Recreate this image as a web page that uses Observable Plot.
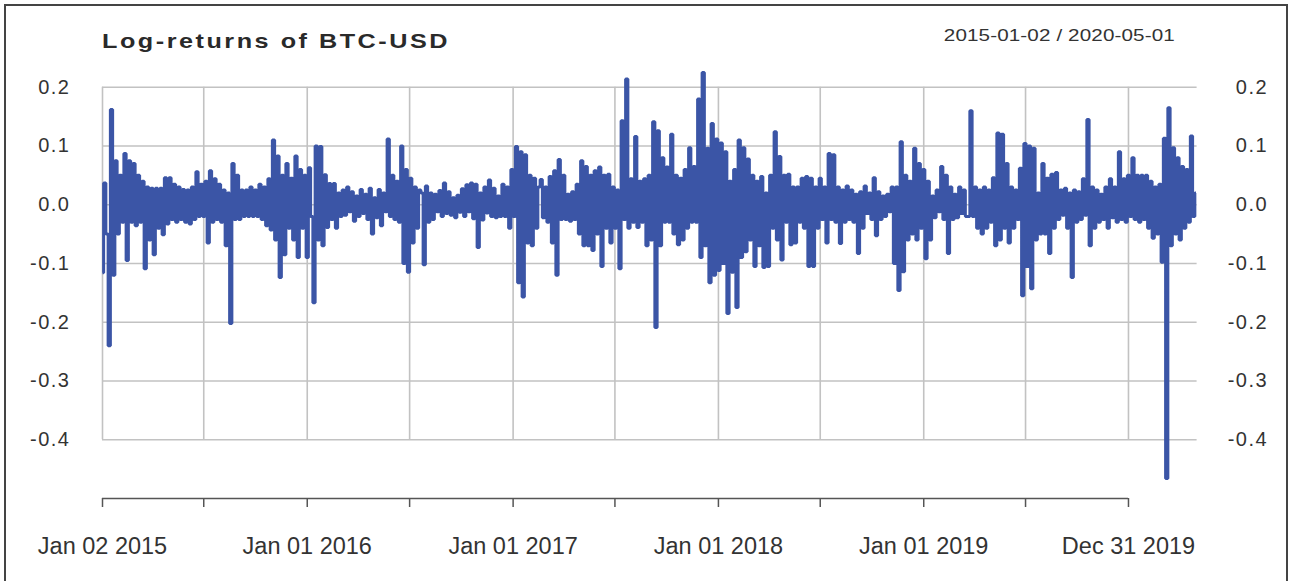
<!DOCTYPE html>
<html>
<head>
<meta charset="utf-8">
<script src="https://cdn.jsdelivr.net/npm/d3@7"></script>
<script src="https://cdn.jsdelivr.net/npm/@observablehq/plot@0.6"></script>
<style>
  body { margin: 0; background: #fff; }
  #wrap { position: relative; width: 1292px; height: 581px; overflow: hidden; font-family: "Liberation Sans", Arial, sans-serif; color: #333; }
  #border { position: absolute; left: 4px; top: 4px; width: 1284px; height: 620px; border: 2px solid #444; box-sizing: border-box; }
  #title { position: absolute; left: 102px; top: 29.5px; font-size: 21px; font-weight: bold; line-height: 21px; letter-spacing: 2.1px; white-space: nowrap; color: #2a2a2a; transform: scaleX(1.2); transform-origin: left center; }
  #range { position: absolute; right: 117px; top: 27px; font-size: 16.5px; line-height: 16.5px; letter-spacing: 0.1px; white-space: nowrap; color: #333; transform: scaleX(1.25); transform-origin: right center; }
  #chart { position: absolute; left: 0; top: 0; }
  #chart g[aria-label="y-axis tick label"] text { letter-spacing: 1.5px; }
</style>
</head>
<body>
<div id="wrap">
  <div id="border"></div>
  <div id="chart"></div>
  <div id="title">Log-returns of BTC-USD</div>
  <div id="range">2015-01-02 / 2020-05-01</div>
</div>
<script>
const startDate = "2015-01-02";
const endDate = "2020-05-01";
const stepDays = 4;

// 2015-01 .. 2016-01
const retA = [-0.116, 0.037, -0.05, -0.24, 0.162, -0.12, 0.075, -0.05, 0.05, -0.03,
  0.087, -0.095, 0.075, -0.03, 0.07, -0.036, 0.05, -0.03, 0.04, -0.109,
  0.03, -0.06, 0.028, -0.085, 0.028, -0.04, 0.028, -0.051, 0.046, -0.033,
  0.046, -0.025, 0.035, -0.03, 0.03, -0.025, 0.026, -0.03, 0.025, -0.033,
  0.03, -0.025, 0.056, -0.02, 0.035, -0.02, 0.04, -0.065, 0.058, -0.03,
  0.044, -0.025, 0.035, -0.03, 0.025, -0.07, 0.02, -0.202, 0.07, -0.025,
  0.05, -0.025, 0.025, -0.02, 0.025, -0.02, 0.03, -0.02, 0.025, -0.02,
  0.035, -0.025, 0.03, -0.036, 0.044, -0.043, 0.11, -0.06, 0.083, -0.124,
  0.05, -0.085, 0.07, -0.04, 0.045, -0.06, 0.083, -0.09, 0.06, -0.04,
  0.05, -0.09, 0.063, -0.02, -0.167, 0.1, -0.06];
// 2016-01 .. 2017-02
const retB = [0.099, -0.07, 0.051, -0.039, 0.036, -0.025, 0.036, -0.04, 0.02, -0.02,
  0.025, -0.018, 0.03, -0.012, 0.022, -0.028, 0.015, -0.02, 0.026, -0.015,
  0.018, -0.025, 0.028, -0.05, 0.012, -0.022, 0.026, -0.036, 0.02, -0.012,
  0.112, -0.02, 0.05, -0.025, 0.04, -0.03, 0.1, -0.1, 0.06, -0.115,
  0.045, -0.065, 0.03, -0.04, 0.025, 0.02, -0.102, 0.032, -0.03, 0.02,
  -0.025, 0.018, -0.012, 0.024, -0.02, 0.037, -0.015, 0.022, -0.018, 0.012,
  -0.022, 0.016, -0.013, 0.027, -0.02, 0.034, -0.012, 0.037, -0.024, 0.035,
  -0.073, 0.02, -0.026, 0.03, -0.014, 0.042, -0.02, 0.028, -0.022, 0.015,
  -0.02, 0.035, -0.02, 0.03, -0.04, 0.06, -0.02, 0.099, -0.133, 0.09,
  -0.157, 0.085, -0.065, 0.05, -0.07, 0.045, -0.04, 0.03];
// 2017-02 .. 2018-03
const retC = [0.043, -0.022, 0.03, -0.03, 0.048, -0.065, 0.058, -0.12, 0.077, -0.025,
  0.05, -0.025, 0.018, -0.028, 0.022, -0.025, 0.035, -0.05, 0.075, -0.07,
  0.065, -0.07, 0.05, -0.078, 0.058, -0.05, 0.064, -0.105, 0.05, -0.04,
  0.052, -0.065, 0.03, -0.04, 0.025, -0.109, 0.143, -0.025, 0.214, -0.04,
  0.044, -0.03, 0.116, -0.039, 0.04, -0.03, 0.044, -0.07, 0.05, -0.06,
  0.141, -0.209, 0.126, -0.07, 0.08, -0.03, 0.064, -0.03, 0.12, -0.05,
  0.05, -0.068, 0.045, -0.06, 0.06, -0.04, 0.097, -0.03, 0.065, -0.03,
  0.18, -0.09, 0.225, -0.07, 0.096, -0.133, 0.138, -0.12, 0.112, -0.112,
  0.105, -0.1, 0.09, -0.185, 0.04, -0.115, 0.06, -0.175, 0.11, -0.09,
  0.097, -0.08, 0.078, -0.06, 0.05, -0.105, 0.04, -0.07];
// 2018-03 .. 2019-04
const retD = [0.048, -0.107, 0.02, -0.105, 0.05, -0.04, 0.124, -0.06, 0.082, -0.094,
  0.05, -0.03, 0.052, -0.068, 0.03, -0.065, 0.03, -0.03, 0.045, -0.04,
  0.048, -0.105, 0.045, -0.105, 0.03, -0.04, 0.045, -0.025, 0.03, -0.065,
  0.087, -0.025, 0.085, -0.03, 0.03, -0.066, 0.025, -0.03, 0.032, -0.025,
  0.025, -0.03, 0.018, -0.083, 0.022, -0.04, 0.032, -0.015, 0.02, -0.025,
  0.046, -0.053, 0.022, -0.025, 0.015, -0.02, 0.018, -0.012, 0.03, -0.1,
  0.03, -0.146, 0.107, -0.114, 0.05, -0.06, 0.04, -0.05, 0.096, -0.06,
  0.07, -0.04, 0.06, -0.092, 0.04, -0.06, 0.015, -0.022, 0.025, -0.012,
  0.065, -0.025, 0.05, -0.083, 0.03, -0.025, 0.018, -0.022, 0.03, -0.015,
  0.025, -0.02, -0.02, 0.16, -0.02, 0.03, -0.04, 0.025];
// 2019-04 .. 2020-05
const retE = [-0.05, 0.03, -0.04, 0.025, -0.03, 0.046, -0.07, 0.122, -0.06, 0.12,
  -0.04, 0.07, -0.065, 0.03, -0.04, 0.025, -0.025, 0.062, -0.155, 0.104,
  -0.105, 0.1, -0.143, 0.096, -0.06, 0.02, -0.05, 0.07, -0.05, 0.045,
  -0.083, 0.052, -0.04, 0.055, -0.025, 0.025, -0.018, 0.028, -0.04, 0.02,
  -0.124, 0.025, -0.03, 0.022, -0.025, 0.044, -0.018, 0.145, -0.07, 0.03,
  -0.04, 0.025, -0.03, 0.018, -0.025, 0.03, -0.04, 0.044, -0.022, 0.03,
  -0.03, 0.09, -0.025, 0.044, -0.03, 0.05, -0.02, 0.08, -0.025, 0.05,
  -0.03, 0.05, -0.025, 0.05, -0.04, 0.04, -0.057, 0.03, -0.05, 0.035,
  -0.098, 0.113, -0.466, 0.165, -0.07, 0.097, -0.05, 0.08, -0.06, 0.065,
  -0.04, 0.06, -0.03, 0.117, -0.02, 0.02];

const xTickDates = ["2015-01-02","2015-07-01","2016-01-01","2016-07-01","2017-01-01","2017-07-01",
                    "2018-01-01","2018-07-01","2019-01-01","2019-07-01","2019-12-31"];
const xLabelDates = ["2015-01-02","2016-01-01","2017-01-01","2018-01-01","2019-01-01","2019-12-31"];
const xLabels = ["Jan 02 2015","Jan 01 2016","Jan 01 2017","Jan 01 2018","Jan 01 2019","Dec 31 2019"];
const yTicks = [-0.4, -0.3, -0.2, -0.1, 0.0, 0.1, 0.2];
const yBottom = -0.5;
const yTop = 0.225;

const returns = [...retA, ...retB, ...retC, ...retD, ...retE];
const t0 = new Date(startDate).getTime();
const series = returns.map((r, i) => ({date: new Date(t0 + i * stepDays * 864e5), ret: r}));

const tickDates = xTickDates.map(d => new Date(d));
const labelDates = xLabelDates.map(d => new Date(d));
const labelMap = new Map(labelDates.map((d, i) => [d.getTime(), xLabels[i]]));

const lineColor = "#3b55a6";
const gridColor = "#c2c2c2";
const axisColor = "#555";

const chart = Plot.plot({
  width: 1292,
  height: 581,
  marginLeft: 102,
  marginRight: 95.4,
  marginTop: 72,
  marginBottom: 83,
  x: {type: "utc", domain: [new Date(startDate), new Date(endDate)]},
  y: {domain: [yBottom, yTop]},
  style: {fontFamily: "'Liberation Sans', Arial, sans-serif", color: "#333", background: "transparent", overflow: "visible"},
  marks: [
    Plot.ruleY(yTicks, {stroke: gridColor, strokeWidth: 1.6}),
    Plot.ruleX(tickDates, {y1: yTicks[yTicks.length - 1], y2: yTicks[0], stroke: gridColor, strokeWidth: 1.6}),
    Plot.line(series, {x: "date", y: "ret", curve: "step", stroke: lineColor, strokeWidth: 3, strokeLinejoin: "miter", strokeLinecap: "butt"}),
    Plot.ruleY([yBottom], {x1: tickDates[0], x2: tickDates[tickDates.length - 1], stroke: axisColor, strokeWidth: 1.5}),
    Plot.axisX(tickDates, {tickSize: 9, stroke: axisColor, strokeWidth: 1.5, fill: "none", label: null}),
    Plot.axisX(labelDates, {tickSize: 0, tickPadding: 39, fontSize: 23.5, fill: "#333", label: null,
      tickFormat: d => labelMap.get(d.getTime())}),
    Plot.axisY(yTicks, {anchor: "left", tickSize: 0, tickPadding: 32, fontSize: 20, fill: "#333", label: null,
      tickFormat: d => d.toFixed(1)}),
    Plot.axisY(yTicks, {anchor: "right", tickSize: 0, tickPadding: 71, textAnchor: "end", fontSize: 20, fill: "#333", label: null,
      tickFormat: d => d.toFixed(1)})
  ]
});
document.getElementById("chart").appendChild(chart);
</script>
</body>
</html>
